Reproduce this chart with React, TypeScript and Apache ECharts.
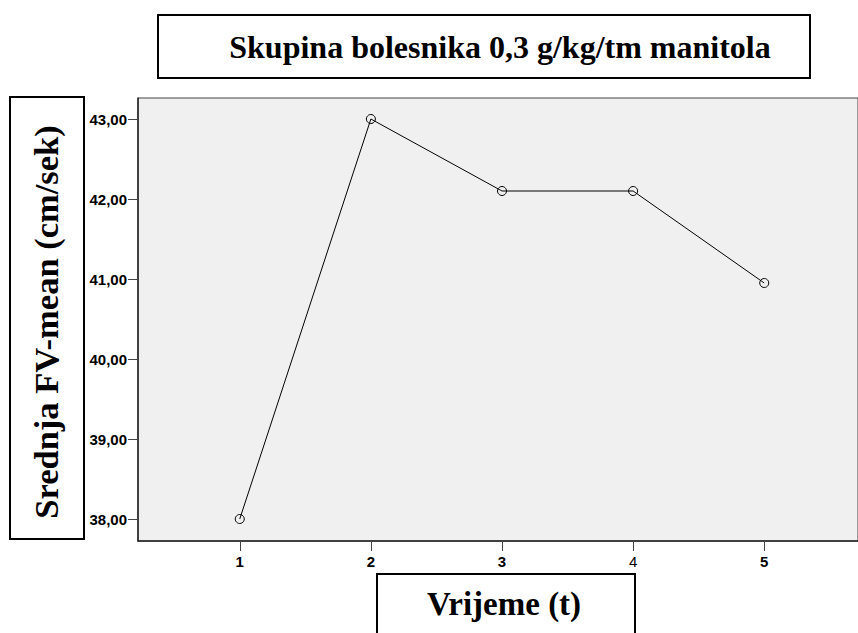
import React, { useEffect, useRef } from "react";
import * as echarts from "echarts";

const titleText = "Skupina bolesnika 0,3 g/kg/tm manitola";
const yAxisTitle = "Srednja FV-mean (cm/sek)";
const xAxisTitle = "Vrijeme (t)";
const timePoints = [1, 2, 3, 4, 5];
const meanValues = [38.0, 43.0, 42.1, 42.1, 40.95];
const yTicks = [38, 39, 40, 41, 42, 43];

export default function App() {
  const ref = useRef<HTMLDivElement>(null);
  useEffect(() => {
    const chart = echarts.init(ref.current!, null, { renderer: "svg" });
    const serif = "'Liberation Serif', 'Times New Roman', serif";
    const sans = "'Liberation Sans', Arial, sans-serif";
    chart.setOption({
      animation: false,
      backgroundColor: "#ffffff",
      grid: {
        left: 138,
        top: 98,
        right: -2,
        bottom: 92,
        show: true,
        backgroundColor: "#f0f0f0",
        borderColor: "#444",
        borderWidth: 1,
      },
      xAxis: {
        type: "value",
        min: 0.224,
        max: 5.715,
        splitLine: { show: false },
        axisLine: { show: true, lineStyle: { color: "#222", width: 1.5 } },
        axisTick: {
          show: true,
          length: 10,
          customValues: timePoints,
          lineStyle: { color: "#444" },
        },
        axisLabel: {
          customValues: timePoints,
          margin: 13,
          fontFamily: sans,
          fontSize: 15,
          fontWeight: "bold",
          color: "#000",
          formatter: (v: number) => (v === 4 ? "{n|4}" : String(v)),
          rich: {
            n: { fontFamily: sans, fontSize: 15, fontWeight: "normal", color: "#000" },
          },
        },
      },
      yAxis: {
        type: "value",
        min: 37.725,
        max: 43.2625,
        splitLine: { show: false },
        axisLine: { show: true, lineStyle: { color: "#222", width: 1.5 } },
        axisTick: {
          show: true,
          length: 10,
          customValues: yTicks,
          lineStyle: { color: "#444" },
        },
        axisLabel: {
          customValues: yTicks,
          margin: 11,
          fontFamily: sans,
          fontSize: 15,
          fontWeight: "bold",
          color: "#000",
          formatter: (v: number) => v.toFixed(2).replace(".", ","),
        },
      },
      series: [
        {
          type: "line",
          data: timePoints.map((t, i) => [t, meanValues[i]]),
          symbol: "circle",
          symbolSize: 9,
          showSymbol: true,
          lineStyle: { color: "#000", width: 1 },
          itemStyle: { color: "rgba(0,0,0,0)", borderColor: "#000", borderWidth: 1 },
        },
      ],
      graphic: [
        {
          type: "rect",
          shape: { x: 158, y: 15, width: 652, height: 63 },
          style: { fill: "#fff", stroke: "#000", lineWidth: 2 },
        },
        {
          type: "text",
          x: 500,
          y: 47,
          style: {
            text: titleText,
            font: `bold 32px ${serif}`,
            fill: "#000",
            align: "center",
            verticalAlign: "middle",
          },
        },
        {
          type: "rect",
          shape: { x: 10, y: 97, width: 74, height: 442 },
          style: { fill: "#fff", stroke: "#000", lineWidth: 2 },
        },
        {
          type: "text",
          x: 46,
          y: 322,
          rotation: Math.PI / 2,
          style: {
            text: yAxisTitle,
            font: `bold 34.5px ${serif}`,
            fill: "#000",
            align: "center",
            verticalAlign: "middle",
          },
        },
        {
          type: "rect",
          shape: { x: 377, y: 574, width: 258, height: 70 },
          style: { fill: "#fff", stroke: "#000", lineWidth: 2 },
        },
        {
          type: "text",
          x: 504,
          y: 604,
          style: {
            text: xAxisTitle,
            font: `bold 33px ${serif}`,
            fill: "#000",
            align: "center",
            verticalAlign: "middle",
          },
        },
      ],
    });
    return () => chart.dispose();
  }, []);
  return <div ref={ref} style={{ width: 858, height: 633, position: "absolute", left: 0, top: 0 }} />;
}
